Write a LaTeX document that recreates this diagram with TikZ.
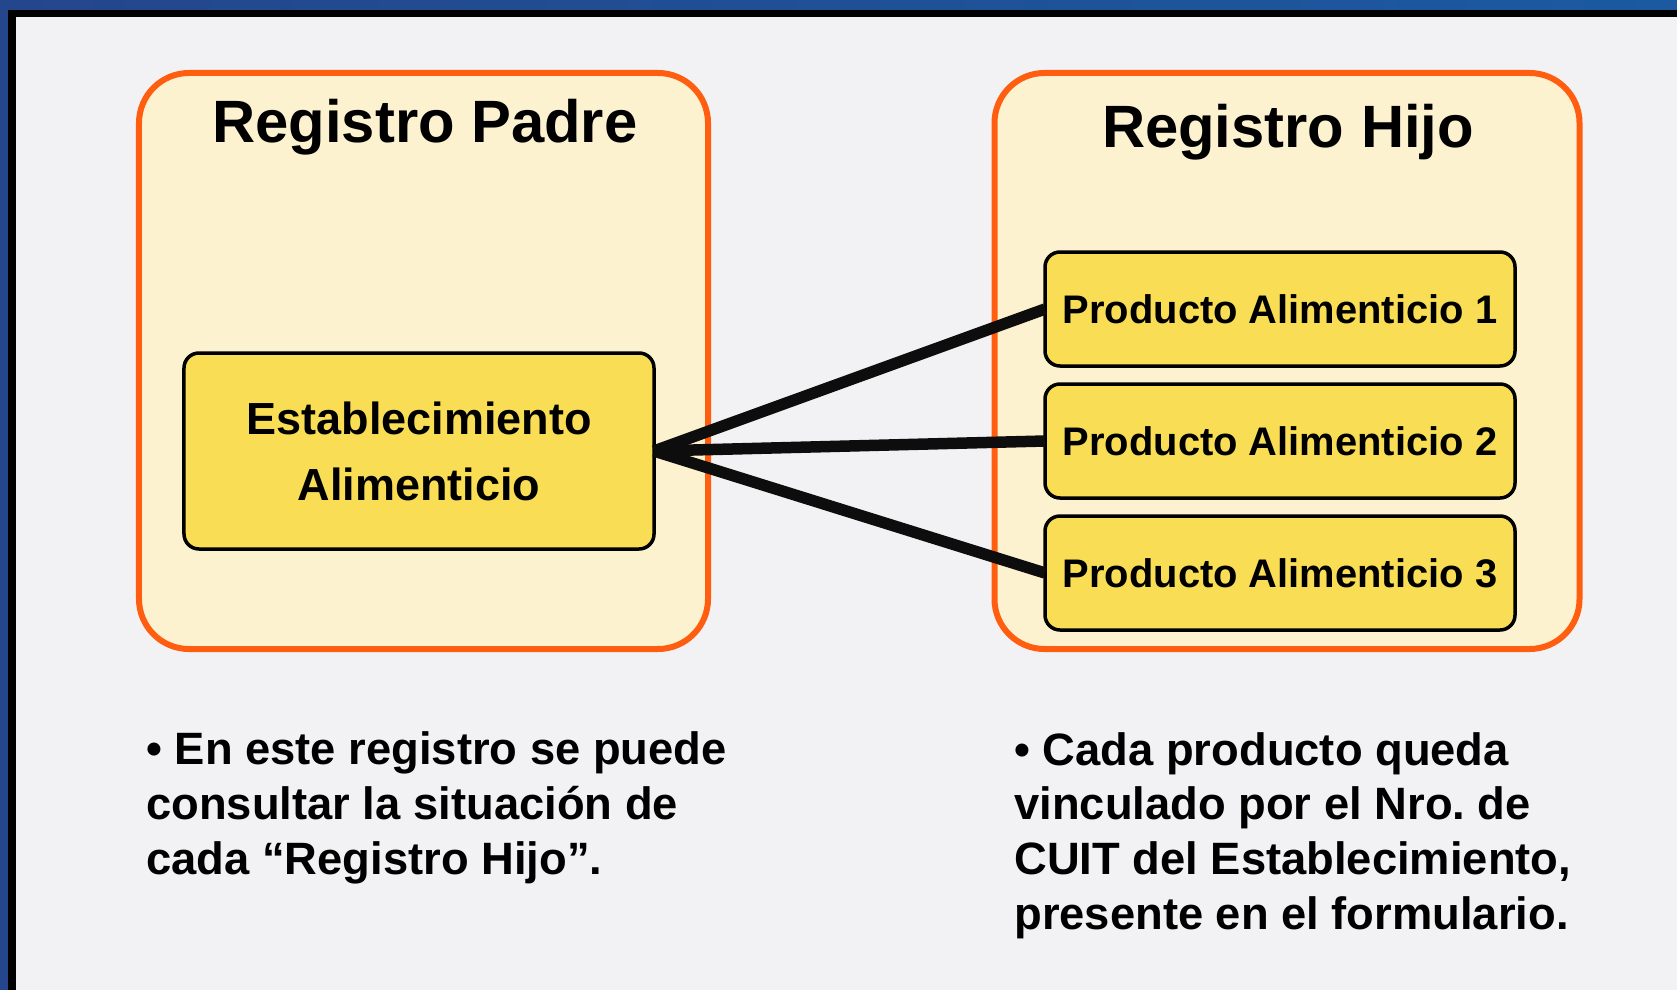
\documentclass[tikz,border=0pt]{standalone}
\usepackage{fontspec}
\setmainfont{Liberation Sans}
\usetikzlibrary{positioning}
\frenchspacing
\definecolor{bgColor}{HTML}{F2F2F4}
\definecolor{regFill}{HTML}{FDF2D0}
\definecolor{regLine}{HTML}{FF5E10}
\definecolor{itemFill}{HTML}{F9DE55}
\definecolor{bandLeft}{HTML}{24468C}
\definecolor{bandRight}{HTML}{1B5AA0}
\tikzset{
	registro/.style={draw=regLine, fill=regFill, line width=1.2mm, rounded corners=10mm,
		inner sep=0, outer sep=0, minimum height=115.2mm},
	bloque/.style={draw=black, fill=itemFill, line width=0.7mm, rounded corners=3mm,
		inner sep=0, outer sep=0, minimum width=94mm, font=\bfseries},
	titulo/.style={inner sep=0, font=\fontsize{34}{40}\selectfont\bfseries},
	nota/.style={inner sep=0, align=left, font=\fontsize{25.8}{31.1}\selectfont\bfseries},
	conector/.style={draw=black!95, line width=2.3mm}
}

\begin{document}
\begin{tikzpicture}[x=0.2mm, y=-0.2mm]
	\useasboundingbox (0,0) rectangle (1677,990);
	% marco
	\fill[bgColor] (0,0) rectangle (1677,990);
	\shade[left color=bandLeft, right color=bandRight] (0,0) rectangle (1677,10);
	\fill[bandLeft] (0,0) rectangle (8,990);
	\fill[black] (8,10) rectangle (1677,17);
	\fill[black] (8,10) rectangle (16,990);
	% registros
	\node[registro, minimum width=113.8mm] (p) at (423.5, 361) {};
	\node[registro, minimum width=117mm] (h) at (1287, 361) {};
	\node[titulo, anchor=base] (p_t) at (425, 142) {Registro Padre};
	\node[titulo, anchor=base] (h_t) at (1288, 147) {Registro Hijo};
	\node[bloque, minimum height=39.2mm, align=center,
		font=\fontsize{25.6}{37.6}\selectfont\bfseries] (e) at (419, 451) {Establecimiento\\Alimenticio};
	\node[bloque, minimum height=22.8mm, font=\fontsize{22.7}{27}\selectfont\bfseries] (h1) at (1280, 309) {Producto Alimenticio 1};
	\node[bloque, minimum height=22.8mm, font=\fontsize{22.7}{27}\selectfont\bfseries] (h2) at (1280, 441) {Producto Alimenticio 2};
	\node[bloque, minimum height=22.8mm, font=\fontsize{22.7}{27}\selectfont\bfseries] (h3) at (1280, 573) {Producto Alimenticio 3};
	\path[conector] (e.east) edge (h1.west);
	\path[conector] (e.east) edge (h2.west);
	\path[conector] (e.east) edge (h3.west);
	% notas
	\node[nota, anchor=base west] (n_p) at (146, 874) {• En este registro se puede\\consultar la situación de\\cada “Registro Hijo”.};
	\node[nota, anchor=base west] (n_h) at (1014, 929) {• Cada producto queda\\vinculado por el Nro. de\\CUIT del Establecimiento,\\presente en el formulario.};
\end{tikzpicture}
\end{document}
